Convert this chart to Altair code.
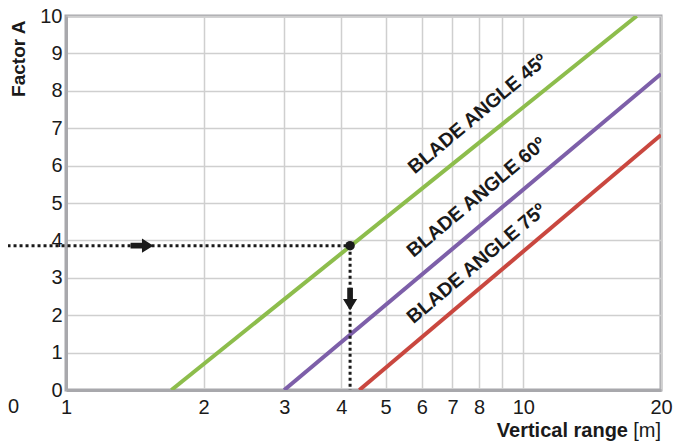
import altair as alt
import pandas as pd

# ---- data ----
series = ["BLADE ANGLE 45º", "BLADE ANGLE 60º", "BLADE ANGLE 75º"]
colors = ["#8dbd4c", "#7d5fa9", "#c9473f"]

range_45 = [1.70, 17.7]
factor_45 = [0, 10]
range_60 = [3.0, 20]
factor_60 = [0, 8.45]
range_75 = [4.38, 20]
factor_75 = [0, 6.82]

label_range = [7.95, 7.9, 7.9]
label_factor = [7.38, 5.15, 3.38]

x_ticks = [1, 2, 3, 4, 5, 6, 7, 8, 9, 10, 20]
y_ticks = [0, 1, 2, 3, 4, 5, 6, 7, 8, 9, 10]

# worked example (reading)
read_range = 4.18
read_factor = 3.86
dotted_start = 0.745
arrow_right_range = 1.466
arrow_down_factor = 2.43

FONT = "Liberation Sans"
TXT = "#1a1a1a"
FRAME = "#a8a8ac"

lines_df = pd.DataFrame({
    "series": [series[0]] * 2 + [series[1]] * 2 + [series[2]] * 2,
    "range": range_45 + range_60 + range_75,
    "factor": factor_45 + factor_60 + factor_75,
})
labels_df = pd.DataFrame({"series": series, "range": label_range, "factor": label_factor})
hdot_df = pd.DataFrame({"range": [dotted_start], "x2": [read_range], "factor": [read_factor], "y2": [read_factor]})
vdot_df = pd.DataFrame({"range": [read_range], "x2": [read_range], "factor": [read_factor], "y2": [0]})
dot_df = pd.DataFrame({"range": [read_range], "factor": [read_factor]})
arrow_r_df = pd.DataFrame({"range": [arrow_right_range], "factor": [read_factor]})
arrow_d_df = pd.DataFrame({"range": [read_range], "factor": [arrow_down_factor]})

xscale = alt.Scale(type="log", domain=[1, 20], nice=False)
yscale = alt.Scale(domain=[0, 10], nice=False)

x_axis = alt.Axis(
    values=x_ticks,
    labelExpr="datum.value == 9 ? '' : format(datum.value, 'd')",
    grid=True, gridColor="#cfcfcf", gridWidth=1.5,
    ticks=False, tickSize=0,
    domain=True, domainColor=FRAME, domainWidth=3,
    labelFont=FONT, labelFontSize=20, labelColor=TXT, labelPadding=7,
    labelFlush=False, labelOverlap=False, labelBound=False,
    title=None,
)
y_axis = alt.Axis(
    values=y_ticks, format="d", tickCount=11,
    grid=True, gridColor="#cfcfcf", gridWidth=1.5,
    ticks=False, tickSize=0,
    domain=True, domainColor=FRAME, domainWidth=3,
    labelFont=FONT, labelFontSize=20, labelColor=TXT, labelPadding=4,
    labelFlush=False, labelOverlap=False, labelBound=False,
    title="Factor A", titleFont=FONT, titleFontSize=19, titleFontWeight="bold",
    titleColor=TXT, titleAngle=270, titleAlign="right", titleBaseline="alphabetic",
    titleX=-42, titleY=4,
)

X = alt.X("range:Q", scale=xscale, axis=x_axis)
Y = alt.Y("factor:Q", scale=yscale, axis=y_axis)

lines = alt.Chart(lines_df).mark_line(strokeWidth=4, clip=True).encode(
    x=X, y=Y,
    color=alt.Color("series:N", scale=alt.Scale(domain=series, range=colors), legend=None),
    detail="series:N",
)

labels = alt.Chart(labels_df).mark_text(
    angle=320, fontSize=19.5, fontWeight="bold", font=FONT, color=TXT,
    align="center", baseline="middle",
).encode(x=X, y=Y, text="series:N")

hdot = alt.Chart(hdot_df).mark_rule(strokeWidth=3, strokeDash=[3, 3], color=TXT, clip=False).encode(
    x=X, x2="x2:Q", y=Y, y2="y2:Q"
)
vdot = alt.Chart(vdot_df).mark_rule(strokeWidth=3, strokeDash=[3, 3], color=TXT, clip=False).encode(
    x=X, x2="x2:Q", y=Y, y2="y2:Q"
)
dot = alt.Chart(dot_df).mark_circle(size=90, color=TXT, opacity=1).encode(x=X, y=Y)
arrow_r = alt.Chart(arrow_r_df).mark_point(
    shape="M-1,-0.25 L0,-0.25 L0,-0.62 L1,0 L0,0.62 L0,0.25 L-1,0.25 Z",
    size=520, filled=True, color=TXT, opacity=1, strokeWidth=0,
).encode(x=X, y=Y)
arrow_d = alt.Chart(arrow_d_df).mark_point(
    shape="M-0.25,-1 L-0.25,0 L-0.62,0 L0,1 L0.62,0 L0.25,0 L0.25,-1 Z",
    size=520, filled=True, color=TXT, opacity=1, strokeWidth=0,
).encode(x=X, y=Y)

title_df = pd.DataFrame({"a": [1]})
xt_bold = alt.Chart(title_df).mark_text(
    text="Vertical range", font=FONT, fontSize=20, fontWeight="bold", color=TXT,
    align="right", baseline="alphabetic",
).encode(x=alt.value(562), y=alt.value(421))
xt_unit = alt.Chart(title_df).mark_text(
    text="[m]", font=FONT, fontSize=20, color=TXT, align="right", baseline="alphabetic",
).encode(x=alt.value(595), y=alt.value(421))
zero_lbl = alt.Chart(title_df).mark_text(
    text="0", font=FONT, fontSize=20, color=TXT, align="left", baseline="alphabetic",
).encode(x=alt.value(-58), y=alt.value(397))

chart = alt.layer(
    lines, labels, hdot, vdot, dot, arrow_r, arrow_d, xt_bold, xt_unit, zero_lbl
).properties(
    width=595, height=374,
    padding={"left": 58, "top": 8, "right": 14, "bottom": 53},
    autosize=alt.AutoSizeParams(type="none"),
    background="white",
).configure_view(stroke=FRAME, strokeWidth=3)

chart.save("out.html", embed_options={"renderer": "svg", "actions": False})
